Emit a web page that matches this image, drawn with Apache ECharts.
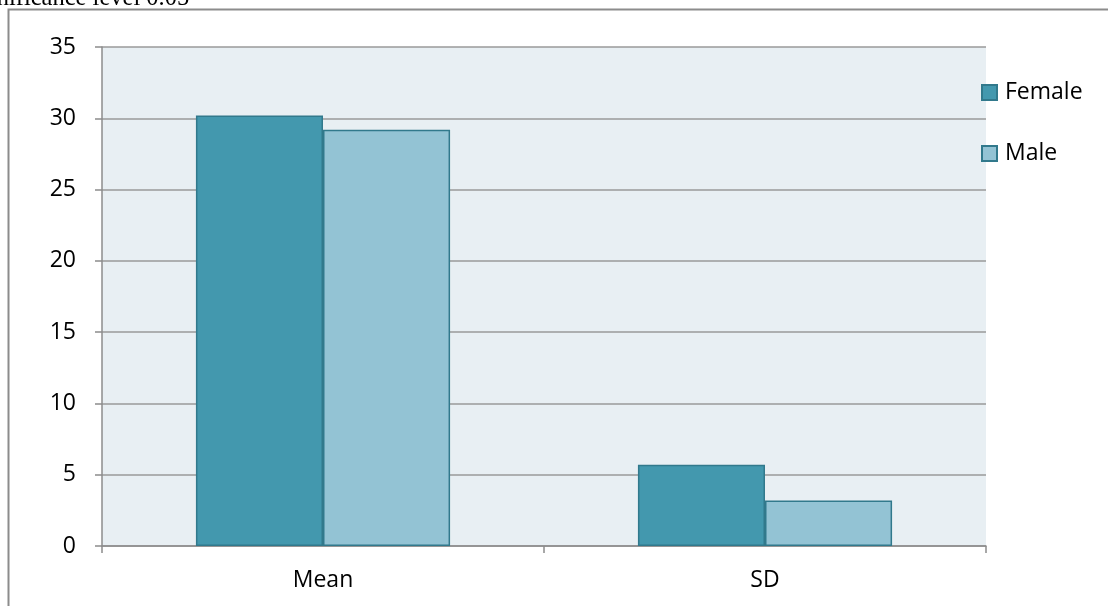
<!DOCTYPE html>
<html>
<head>
<meta charset="utf-8">
<script src="https://cdn.jsdelivr.net/npm/echarts@6/dist/echarts.min.js"></script>
<style>
  html, body { margin: 0; padding: 0; background: #ffffff; }
  #chart { width: 1108px; height: 606px; }
</style>
</head>
<body>
<div id="chart"></div>
<script>
// Summary statistics by gender
const categories = ['Mean', 'SD'];
const femaleValues = [30.2, 5.7];
const maleValues = [29.2, 3.2];
const seriesNames = ['Female', 'Male'];
const captionText = 'Significance level 0.05';

const chart = echarts.init(document.getElementById('chart'), null, { renderer: 'canvas' });

const labelFont = { fontFamily: 'Open Sans, Liberation Sans, sans-serif', fontSize: 23, color: '#000000' };
const edge = '#31798c';

chart.setOption({
  backgroundColor: '#ffffff',
  animation: false,
  graphic: [
    {
      type: 'rect',
      shape: { x: 8.5, y: 9.5, width: 1120, height: 620 },
      style: { fill: 'none', stroke: '#8c8c8c', lineWidth: 2 },
      silent: true
    },
    {
      type: 'text',
      style: {
        x: -36,
        y: 11,
        text: captionText,
        font: '24.5px "Liberation Serif", serif',
        fill: '#000000',
        verticalAlign: 'bottom'
      },
      silent: true
    }
  ],
  grid: { left: 102, right: 122, top: 47, bottom: 60, backgroundColor: '#e8eff3', show: true, borderWidth: 0 },
  legend: {
    orient: 'vertical',
    left: 981,
    top: 81,
    padding: 0,
    itemGap: 38,
    itemWidth: 15,
    itemHeight: 15,
    icon: 'rect',
    textStyle: Object.assign({ padding: [0, 0, 0, 3] }, labelFont),
    data: seriesNames
  },
  xAxis: {
    type: 'category',
    data: categories,
    axisLine: { lineStyle: { color: '#8c8c8c', width: 1.5 } },
    axisTick: { show: true, length: 7, lineStyle: { color: '#8c8c8c', width: 1.5 } },
    axisLabel: Object.assign({ margin: 23 }, labelFont),
    splitLine: { show: false }
  },
  yAxis: {
    type: 'value',
    min: 0,
    max: 35,
    interval: 5,
    axisLine: { show: true, lineStyle: { color: '#8c8c8c', width: 1.5 } },
    axisTick: { show: true, length: 7, lineStyle: { color: '#8c8c8c', width: 1.5 } },
    axisLabel: Object.assign({ margin: 26 }, labelFont),
    splitLine: { show: true, lineStyle: { color: '#9a9a9a', width: 1.5 } }
  },
  series: [
    {
      name: seriesNames[0],
      type: 'bar',
      data: femaleValues,
      barGap: '0%',
      barCategoryGap: '42.5%',
      itemStyle: { color: '#4398ae', borderColor: edge, borderWidth: 1.5 }
    },
    {
      name: seriesNames[1],
      type: 'bar',
      data: maleValues,
      barGap: '0%',
      barCategoryGap: '42.5%',
      itemStyle: { color: '#93c3d4', borderColor: edge, borderWidth: 1.5 }
    }
  ]
});
</script>
</body>
</html>
